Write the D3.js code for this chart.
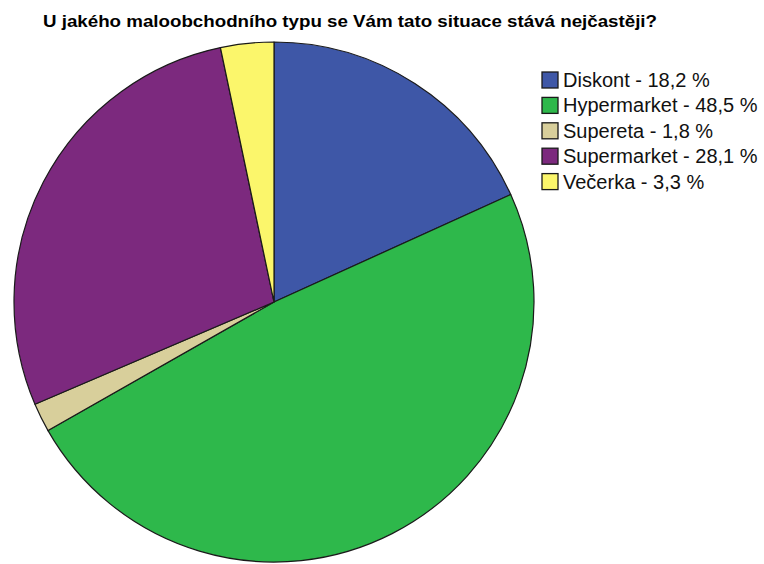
<!DOCTYPE html>
<html>
<head>
<meta charset="utf-8">
<script src="https://cdn.jsdelivr.net/npm/d3@7"></script>
<style>
  html, body { margin: 0; padding: 0; background: #ffffff; }
  svg { display: block; }
</style>
</head>
<body>
<svg id="chart" width="764" height="564"></svg>
<script>
// Retail store types and their share of answers (%)
const categories = ["Diskont", "Hypermarket", "Supereta", "Supermarket", "Večerka"];
const shares = [18.2, 48.5, 1.8, 28.1, 3.3];
const colors = ["#3e57a7", "#2eb84b", "#d8cf9b", "#7c297e", "#fbf66b"];
const title = "U jakého maloobchodního typu se Vám tato situace stává nejčastěji?";

const svg = d3.select("#chart");

// Title
const titleText = svg.append("text")
  .attr("x", 43)
  .attr("y", 27)
  .attr("font-family", "Liberation Sans, Arial, sans-serif")
  .attr("font-weight", "bold")
  .attr("font-size", 17)
  .attr("fill", "#000")
  .text(title);
titleText.attr("textLength", 614).attr("lengthAdjust", "spacingAndGlyphs");

// Pie
const cx = 274, cy = 302, r = 260;
const pie = d3.pie().sort(null).value(d => d.value);
const arc = d3.arc().innerRadius(0).outerRadius(r);
const data = categories.map((c, i) => ({ name: c, value: shares[i], color: colors[i] }));

svg.append("g")
  .attr("transform", `translate(${cx},${cy})`)
  .selectAll("path")
  .data(pie(data))
  .join("path")
  .attr("d", arc)
  .attr("fill", d => d.data.color)
  .attr("stroke", "#1a1a1a")
  .attr("stroke-width", 1.2)
  .attr("stroke-linejoin", "round");

// Legend
const fmt = v => d3.format(".1f")(v).replace(".", ",");
const legend = svg.append("g").attr("transform", "translate(542,72)");
const rowH = 25.4;
const rows = legend.selectAll("g")
  .data(data)
  .join("g")
  .attr("transform", (d, i) => `translate(0,${i * rowH})`);
rows.append("rect")
  .attr("x", 0).attr("y", 0)
  .attr("width", 16).attr("height", 16)
  .attr("fill", d => d.color)
  .attr("stroke", "#1a1a1a")
  .attr("stroke-width", 1.3);
rows.append("text")
  .attr("x", 21)
  .attr("y", 15)
  .attr("font-family", "Liberation Sans, Arial, sans-serif")
  .attr("font-size", 20)
  .attr("fill", "#111")
  .text(d => `${d.name} - ${fmt(d.value)} %`);
</script>
</body>
</html>
